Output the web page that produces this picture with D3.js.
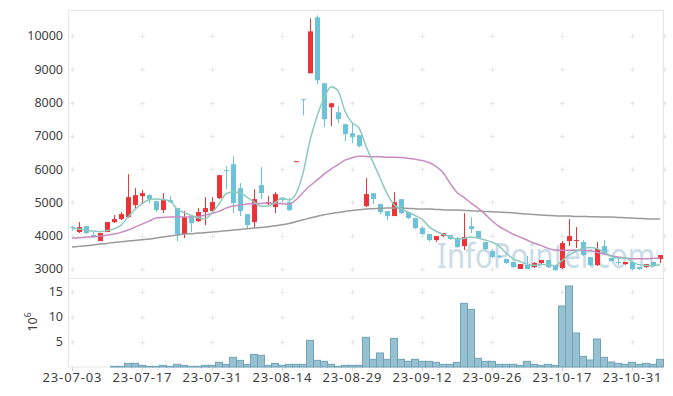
<!DOCTYPE html>
<html>
<head>
<meta charset="utf-8">
<script src="https://cdn.jsdelivr.net/npm/d3@7"></script>
<style>
  html, body { margin: 0; padding: 0; background: #fff; }
  svg { display: block; font-family: "Noto Sans", sans-serif; }
</style>
</head>
<body>
<svg id="chart" width="673" height="396"></svg>
<script>
const dates = [
  '23-07-03','23-07-04','23-07-05','23-07-06','23-07-07','23-07-10','23-07-11','23-07-12','23-07-13','23-07-14',
  '23-07-17','23-07-18','23-07-19','23-07-20','23-07-21','23-07-24','23-07-25','23-07-26','23-07-27','23-07-28',
  '23-07-31','23-08-01','23-08-02','23-08-03','23-08-04','23-08-07','23-08-08','23-08-09','23-08-10','23-08-11',
  '23-08-14','23-08-16','23-08-17','23-08-18','23-08-21','23-08-22','23-08-23','23-08-24','23-08-25','23-08-28',
  '23-08-29','23-08-30','23-08-31','23-09-01','23-09-04','23-09-05','23-09-06','23-09-07','23-09-08','23-09-11',
  '23-09-12','23-09-13','23-09-14','23-09-15','23-09-18','23-09-19','23-09-20','23-09-21','23-09-22','23-09-25',
  '23-09-26','23-09-27','23-10-04','23-10-05','23-10-06','23-10-10','23-10-11','23-10-12','23-10-13','23-10-16',
  '23-10-17','23-10-18','23-10-19','23-10-20','23-10-23','23-10-24','23-10-25','23-10-26','23-10-27','23-10-30',
  '23-10-31','23-11-01','23-11-02','23-11-03','23-11-06'
];

const opens = [
  4260, 4110, 4290, 4020, 3840, 4110, 4410, 4500, 4560, 4920,
  5190, 5220, 5040, 4770, 5070, 4830, 4050, 4560, 4440, 4710,
  4740, 5130, 5970, 6150, 5430, 4650, 4410, 5520, 4950, 4860,
  5100, 5010, 6240, 8100, 8880, 10560, 8580, 7860, 7710, 7350,
  7080, 7020, 4890, 5280, 4950, 4740, 4590, 5100, 4710, 4530,
  4230, 4050, 3870, 3990, 4020, 3930, 3690, 4290, 4140, 3810,
  3540, 3390, 3300, 3210, 3000, 3120, 3060, 3180, 3270, 3120,
  3030, 3840, 3840, 3810, 3360, 3120, 3690, 3330, 3210, 3150,
  3210, 3060, 3060, 3210, 3300
];
const closes = [
  4230, 4260, 4080, 3960, 4080, 4410, 4500, 4650, 5160, 5220,
  5280, 5100, 4770, 5070, 5010, 4050, 4560, 4380, 4710, 4830,
  5010, 5820, 5940, 4980, 4740, 4320, 5100, 5280, 5010, 5250,
  5070, 4770, 6240, 8080, 10140, 8670, 7500, 7980, 7500, 7050,
  6960, 6690, 5250, 5100, 4710, 4590, 5010, 4680, 4530, 4230,
  4050, 3870, 3990, 4080, 3900, 3660, 3960, 4200, 3930, 3600,
  3360, 3360, 3180, 3060, 3150, 3000, 3180, 3270, 3060, 2970,
  3780, 3990, 3870, 3420, 3120, 3600, 3480, 3240, 3180, 3210,
  3000, 3000, 3150, 3120, 3420
];
const highs = [
  4290, 4410, 4290, 4110, 4080, 4410, 4620, 4710, 5850, 5430,
  5370, 5250, 5040, 5280, 5190, 4830, 4740, 4560, 4830, 5160,
  5160, 5820, 6090, 6390, 5580, 4650, 5400, 6060, 5190, 5310,
  5130, 5130, 6240, 8100, 10530, 10620, 8580, 7980, 7890, 7350,
  7410, 7020, 5730, 5280, 4950, 4740, 5310, 5100, 4710, 4530,
  4290, 4050, 3990, 4080, 4020, 3960, 4680, 4560, 4140, 3810,
  3600, 3420, 3300, 3210, 3150, 3390, 3210, 3270, 3270, 3120,
  3840, 4500, 4260, 3870, 3360, 3810, 3870, 3330, 3330, 3210,
  3210, 3060, 3150, 3210, 3420
];
const lows = [
  4140, 4080, 4050, 3930, 3840, 4110, 4380, 4470, 4530, 4800,
  4980, 4980, 4710, 4680, 4980, 3840, 3930, 4110, 4410, 4320,
  4710, 5100, 5400, 4680, 4590, 4200, 4230, 5100, 4920, 4680,
  5010, 4740, 6240, 7620, 8880, 8550, 7260, 7290, 7380, 6840,
  6780, 6660, 4860, 4950, 4650, 4470, 4590, 4650, 4500, 4200,
  4020, 3840, 3810, 3960, 3870, 3630, 3570, 4080, 3900, 3570,
  3330, 3330, 3150, 3030, 3000, 3000, 3030, 3150, 3030, 2940,
  3000, 3690, 3630, 3390, 3090, 3090, 3450, 3210, 3120, 3120,
  2970, 2970, 3030, 3060, 3180
];

// volume in millions of shares
const volumes = [
  0, 0, 0, 0, 0, 0, 0.13, 0.13, 0.73, 0.73,
  0.33, 0.13, 0.13, 0.33, 0.13, 0.53, 0.33, 0.13, 0.13, 0.33,
  0.33, 0.93, 0.53, 1.93, 1.33, 0.53, 2.53, 2.33, 0.33, 0.73,
  0.33, 0.53, 0.53, 0.53, 5.33, 1.33, 1.13, 0.53, 0.13, 0.33,
  0.33, 0.33, 5.93, 1.53, 2.8, 1.53, 5.73, 1.53, 1.13, 1.53,
  1.13, 1.13, 0.93, 0.53, 0.53, 0.93, 12.73, 11.53, 1.73, 1.13,
  1.13, 0.53, 0.53, 0.53, 0.33, 1.13, 0.53, 0.33, 0.53, 0.33,
  12.2, 16.2, 6.8, 2.13, 1.4, 5.6, 1.93, 1.0, 0.73, 0.53,
  0.93, 0.53, 0.73, 0.53, 1.53
];

const ma5 = [
  4230, 4200, 4170, 4140, 4122, 4158, 4206, 4320, 4560, 4788,
  4962, 5082, 5106, 5088, 5046, 4800, 4692, 4614, 4542, 4506,
  4698, 4950, 5262, 5316, 5298, 5160, 5016, 4884, 4890, 4992,
  5142, 5076, 5268, 5882, 6860, 7580, 8126, 8474, 8358, 7740,
  7398, 7236, 6690, 6210, 5742, 5268, 4932, 4818, 4704, 4608,
  4500, 4272, 4134, 4044, 3978, 3900, 3918, 3960, 3930, 3870,
  3810, 3690, 3486, 3312, 3222, 3150, 3114, 3132, 3132, 3096,
  3252, 3414, 3534, 3618, 3648, 3612, 3510, 3384, 3324, 3342,
  3222, 3126, 3108, 3096, 3138
];
const ma20 = [
  3930, 3940, 3960, 3970, 3990, 4020, 4050, 4100, 4170, 4260,
  4350, 4440, 4530, 4550, 4560, 4560, 4560, 4570, 4580, 4620,
  4670, 4730, 4830, 4890, 4920, 4950, 4960, 4970, 4980, 4970,
  4960, 4950, 5080, 5300, 5500, 5670, 5850, 6000, 6130, 6270,
  6340, 6390, 6380, 6370, 6370, 6360, 6360, 6350, 6330, 6300,
  6260, 6200, 6080, 5900, 5580, 5300, 5150, 4980, 4830, 4650,
  4450, 4280, 4160, 4050, 3960, 3870, 3780, 3710, 3620, 3570,
  3560, 3560, 3560, 3560, 3550, 3500, 3450, 3400, 3360, 3330,
  3310, 3310, 3310, 3320, 3330
];
const ma60 = [
  3660, 3680, 3700, 3720, 3750, 3770, 3800, 3820, 3840, 3860,
  3880, 3900, 3930, 3960, 3990, 4020, 4050, 4060, 4080, 4090,
  4110, 4130, 4150, 4170, 4190, 4210, 4230, 4250, 4270, 4300,
  4330, 4370, 4420, 4480, 4530, 4580, 4630, 4670, 4700, 4730,
  4760, 4780, 4800, 4810, 4820, 4830, 4830, 4830, 4820, 4810,
  4800, 4800, 4790, 4780, 4770, 4770, 4760, 4750, 4740, 4730,
  4720, 4710, 4700, 4690, 4670, 4650, 4640, 4620, 4610, 4600,
  4590, 4590, 4580, 4580, 4570, 4570, 4560, 4560, 4550, 4540,
  4530, 4520, 4510, 4500, 4500
];

const priceTicks = [3000, 4000, 5000, 6000, 7000, 8000, 9000, 10000];
const volumeTicks = [5, 10, 15];
const dateTickEvery = 10;

const RED = '#ee3338';
const BLUE = '#6cc2d8';
const GRID = '#e6e6e6';
const FRAME = '#e6e6e6';
const TEXT = '#404040';

const svg = d3.select('#chart');

const x = d3.scaleLinear()
  .domain([-0.5, dates.length - 0.5])
  .range([68.5, 663.5]);
const y = d3.scaleLinear()
  .domain([2730, 10781])
  .range([278, 10]);
const yVol = d3.scaleLinear()
  .domain([0, 17.8])
  .range([367, 278]);

const dateTicks = d3.range(0, dates.length, dateTickEvery);

drawFrames();
drawGridMarks();
drawLabels();
drawWatermark();
drawVolume();
drawCandles();
drawAverages();

function drawFrames() {
  svg.append('rect')
    .attr('x', 68.5).attr('y', 10.5)
    .attr('width', 595).attr('height', 268)
    .attr('fill', 'none').attr('stroke', FRAME);

  svg.append('rect')
    .attr('x', 68.5).attr('y', 278.5)
    .attr('width', 595).attr('height', 88.5)
    .attr('fill', 'none').attr('stroke', FRAME);
}

function drawGridMarks() {
  const marks = [];
  dateTicks.forEach((i) => {
    priceTicks.forEach((v) => marks.push([x(i), y(v)]));
    volumeTicks.forEach((v) => marks.push([x(i), yVol(v)]));
  });
  priceTicks.forEach((v) => marks.push([663.5, y(v)]));

  const g = svg.append('g').attr('stroke', GRID).attr('stroke-width', 1);
  marks.forEach(([cx, cy]) => {
    const px = Math.round(cx) + 0.5;
    const py = Math.round(cy) + 0.5;
    g.append('line').attr('x1', px - 2.5).attr('x2', px + 2.5).attr('y1', py).attr('y2', py);
    g.append('line').attr('x1', px).attr('x2', px).attr('y1', py - 2.5).attr('y2', py + 2.5);
  });

  // small ticks under the date axis
  svg.append('g')
    .selectAll('line')
    .data(dateTicks)
    .join('line')
      .attr('x1', (i) => Math.round(x(i)) + 0.5)
      .attr('x2', (i) => Math.round(x(i)) + 0.5)
      .attr('y1', 367)
      .attr('y2', 371)
      .attr('stroke', '#d4d4d4');
}

function drawLabels() {
  svg.append('g')
    .selectAll('text')
    .data(priceTicks)
    .join('text')
      .attr('x', 63)
      .attr('y', (v) => y(v))
      .attr('dy', '0.35em')
      .attr('text-anchor', 'end')
      .attr('font-size', 12.5)
      .attr('fill', TEXT)
      .text((v) => v);

  svg.append('g')
    .selectAll('text')
    .data(volumeTicks)
    .join('text')
      .attr('x', 63)
      .attr('y', (v) => yVol(v))
      .attr('dy', '0.35em')
      .attr('text-anchor', 'end')
      .attr('font-size', 12.5)
      .attr('fill', TEXT)
      .text((v) => v);

  const unit = svg.append('text')
    .attr('transform', 'translate(37,322) rotate(-90)')
    .attr('text-anchor', 'middle')
    .attr('font-size', 12.5)
    .attr('fill', TEXT);
  unit.append('tspan').text('10');
  unit.append('tspan')
    .attr('font-size', 8.5)
    .attr('dy', -6)
    .text('6');

  svg.append('g')
    .selectAll('text')
    .data(dateTicks)
    .join('text')
      .attr('x', (i) => x(i) - 29.5)
      .attr('y', 382)
      .attr('font-size', 13)
      .attr('textLength', 59)
      .attr('lengthAdjust', 'spacing')
      .attr('fill', TEXT)
      .text((i) => dates[i]);
}

function drawWatermark() {
  svg.append('text')
    .attr('x', 437)
    .attr('y', 268)
    .attr('font-size', 34)
    .attr('textLength', 218)
    .attr('lengthAdjust', 'spacingAndGlyphs')
    .attr('fill', '#c9dce7')
    .text('InfoPointer.com');
}

function drawVolume() {
  svg.append('g')
    .selectAll('rect')
    .data(volumes)
    .join('rect')
      .attr('x', (d, i) => x(i - 0.5))
      .attr('y', (d) => yVol(d))
      .attr('width', x(1) - x(0))
      .attr('height', (d) => yVol(0) - yVol(d))
      .attr('fill', '#97c0d0')
      .attr('stroke', '#6fa3b8')
      .attr('stroke-width', 1)
      .attr('display', (d) => d > 0 ? null : 'none');
}

function drawCandles() {
  const g = svg.append('g');
  const bodyWidth = 5;

  dates.forEach((d, i) => {
    const color = closes[i] >= opens[i] ? RED : BLUE;
    const cx = Math.round(x(i)) + 0.5;
    const top = y(Math.max(opens[i], closes[i]));
    const bottom = y(Math.min(opens[i], closes[i]));

    g.append('line')
      .attr('x1', cx).attr('x2', cx)
      .attr('y1', y(highs[i])).attr('y2', y(lows[i]))
      .attr('stroke', color)
      .attr('stroke-width', 1);

    g.append('rect')
      .attr('x', cx - bodyWidth / 2)
      .attr('y', top)
      .attr('width', bodyWidth)
      .attr('height', Math.max(1, bottom - top))
      .attr('fill', color);
  });
}

function drawAverages() {
  const series = [
    { values: ma60, color: '#9a9a9a' },
    { values: ma20, color: '#c98cc1' },
    { values: ma5, color: '#8ccabf' }
  ];

  const line = d3.line()
    .x((d, i) => x(i))
    .y((d) => y(d))
    .curve(d3.curveMonotoneX);

  series.forEach((s) => {
    svg.append('path')
      .attr('d', line(s.values))
      .attr('fill', 'none')
      .attr('stroke', s.color)
      .attr('stroke-width', 1.5);
  });
}
</script>
</body>
</html>
